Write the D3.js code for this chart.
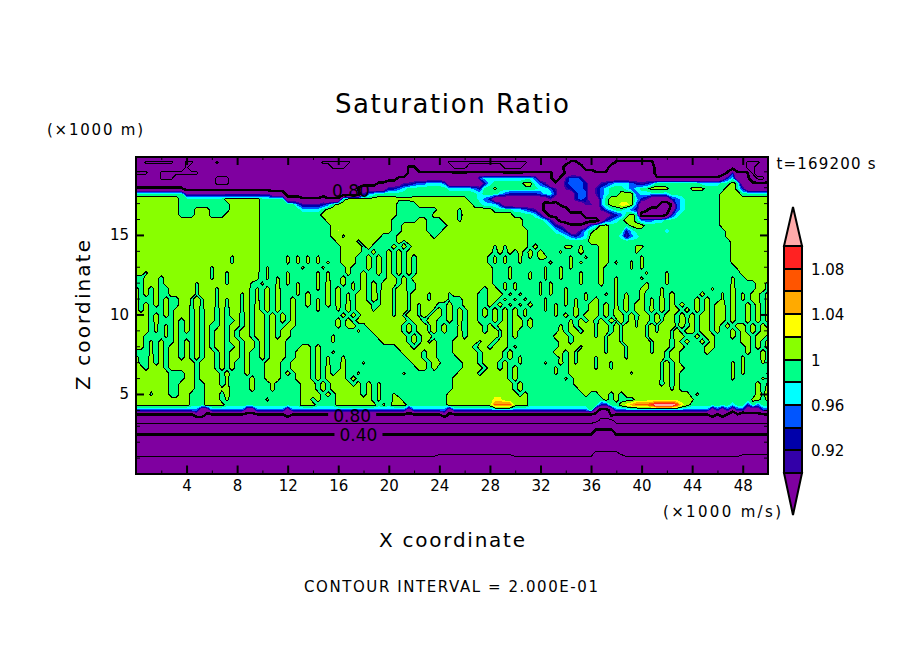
<!DOCTYPE html>
<html>
<head>
<meta charset="utf-8">
<script src="https://cdn.jsdelivr.net/npm/d3@7"></script>
<style>
  html, body { margin: 0; background: #fff; }
  svg { display: block; }
  text { font-family: "DejaVu Sans", sans-serif; fill: #000; }
</style>
</head>
<body>
<svg id="chart" width="904" height="654"></svg>
<script>
// shaded levels and their colours, lowest band first
const levels = [0.90, 0.92, 0.94, 0.96, 0.98, 1.00, 1.02, 1.04, 1.06, 1.08, 1.10];
const below_color = '#7f00a0';
const band_colors = ['#3300a8', '#0000aa', '#0055ff', '#00ffff', '#00ff88', '#88ff00', '#ffff00', '#ffaa00', '#ff5500', '#ff2222', '#ffaaaa'];
const line_levels = [0.2, 0.4, 0.6, 0.8, 1.0];
const line_widths = [1, 2.5, 1, 2.5, 1];

const x_major = [4, 8, 12, 16, 20, 24, 28, 32, 36, 40, 44, 48];
const x_minor = [2, 6, 10, 14, 18, 22, 26, 30, 34, 38, 42, 46, 50];
const z_major = [5, 10, 15];
const z_minor = [1, 2, 3, 4, 6, 7, 8, 9, 11, 12, 13, 14, 16, 17, 18, 19];
const bar_labels = [0.92, 0.96, 1.00, 1.04, 1.08];

const label_text = ['0.80', '0.80', '0.40'];
const label_x = [17.0, 17.1, 17.6];
const label_z = [17.8, 3.68, 2.5];

// what each grid character stands for
const code_chars = 'ABCDEFGHIJKLMPfghi.-+#xyonrs';
const code_values = [0.10, 0.13, 0.16, 0.19, 0.23, 0.28, 0.33, 0.37, 0.45, 0.55, 0.65, 0.76, 0.81, 0.85,
  0.91, 0.93, 0.95, 0.97, 0.99, 0.996, 1.004, 1.01, 1.022, 1.03, 1.05, 1.07, 1.09, 1.13];

// saturation ratio, top of the domain first.
// one row per 1/3 km, each block of ten is 4 km wide
const rows_top = [
  'LLLLLLLLLL LLLLLLLLLL LLLLLLLLLL LLLLLLLLLL LLLLLLLLLL LLLLLLLLLL LLLLLLLLLL LLLLLLLLLL LLLLLLLLLL LLLLLLLLLL LLLLLLLLLL LLLLLLLLLL LLLLLL',
  'LLJJJJJJLL JJLLLLJLLL LLLLLLLLLL LLLLLLLJJJ JJJLLLLLLL LLLLLLLLLL LLJJJJJJJJ JJJJJJJJLL LLLLLLMMLL LLLLLMMMMM MMMLLLLLLL LLLLLLLLLL LJJJLL',
  'LLLLLLLLLL JLLLLLLLLL LLLLLLLLLL LLLLLLLLLJ JJLLLLLLLL LLLLMMLLLL LLLJJJLLLL LLLJJJJLLL LLLLLPPPPL LLLLPPPPPP PPPLLLLLLL LLLLLLLLLL LJJLLL',
  'JJJLLJJJJJ JJJLLLLLLL LLLLLLLLLL LLLLLLLLLL LLLLLLLLLL LLLLMMMMMM MMMMMMMMMM MMMMMMMMMM MMMLLMPPPP PMMMMPPPPP PPPLLLLLLL LLLLLLLMgM MMJLLL',
  'LLLLLJJJLL LLLLLLJJJL LLLLLLLLLL LLLLLLLLLL LLLLLLLLLL LLMMPPPPPP PPPPPPPPhi iiiiiiiiih PPMLMfhhgP PPPPPPPPPP PPPMMMMMMM MMMMMMPgiP PMLJJL',
  'LLLLLLLLLL LLLLLLJJJL LLLLLLLLLL LLLLLLLLLL LLLLLLLLMM PPPffghhii ihPPPPPPPg i......##i hfMMPghhhg PPfghiiihg fgh....... ..iiii..#. PMMMMM',
  'MMMMMMMMMM LLLLLLLLLL LLLLLLLLLL LLLLLLLLLL LLLLMPPPPP gghi...... ..iiiiihg. .+........ iihfPfghhg Pfhi...ihi ..###+.... +++....##. gPPPPP',
  '.......... ffffffffff fffffffPPP LLLLLLLLLL LLLLLfhi.. .......... ........i. ..ihgggggg hiigPPPghh Pfhi..###h iiiiii.... ......#### ......',
  '#########. ........## #####..... PPPMMMMPMM M.######## ##+++##### ######..ih gPPPPPPPPP PPfPPPPghg PPh.#####i gfPPPPghi. ......#### ######',
  '#########. .........# #####..... ..hffffgh. ########## ##....#### #######..i iigPPPPPPP PLLLMPPPPf fPh.##yy#h PPPPLLMhi. ......#### ######',
  '#########. ..###....# #####..... ...iiii.## ########## ##........ ####-##### #....iihgf PLLLLLPPPP PPfhi..ihg PMLLLLPhi. ......#### ######',
  '#########. ..###...## #####..... .......### ########## ##.......# ####.##### #####....i gPLLLLLLLP PPPPfgh.#. LLLLLMgi.. ......#### ######',
  '########## ########## #####..... ........## ########## #.....##.. .###-##### #######... .igPLLLLLL LLPghi.##. hhhii..... ......#### ######',
  '########## ########## #####..... .........# ########## #..#####.. ..######## #######... ..igfPMMMP hi##....+# #......... ......#### ######',
  '########## ########## #####..... .........# x######### #..#####.. .######### ########.. ...ihgPPgi .###...gi. .....i.... .......### ######',
  '########## ########## #####..... .........# #-#######. ..#######. ########## ########.. .....ihghi ####..ifhi .......... .......### ######',
  '########## ########## #####..... .......... ####-###.. ..#-###### ########## ########.. .......... ####...... .......... ........## ######',
  '########## ########## #####..... .......... .####-#... .#.#.##### ########## #-#-####.# .....++.+. ..##.....+ +......... ........## ######',
  '########## ########## #####..... .......... .####..#.. #.#.###### ########## #.#.#.#.#. #...+...#. ..##.....+ .......... ........## ######',
  '########## #########- #####..... +.+.+.+... .###..#.#. #.#.#.#### ########## .+.+..+.+. #+....+..+ ..##...... +......... ........## ######'
];

const rows_middle = [
  '########## #########- #####..... +.+.+.+.+. .###..#.#. #.#.#.#### ########## .+.+..+... ..+...+.+. ..##.+..+. +......... ........+# ######',
  '########## #####-#### #####.+... ...+...+.. ..#...#.#. #.#.#.#### ########## #...+..... .+..+.+... ..#.....+. +......... .........+ ######',
  '##-####### #####-##-# ####+.+... +.....+.+. ..#..#..#. #.#.#.#### ########## #...+...+. .+..+...+. ..#....... .+...+.... .......... ######',
  '..###.#### #####-##-# ####+.+.+. +.....+.+. .#...#.... ##.#.##### ########## #...+...+. .+..+...+. ..#..+.... +....+.... ........+. .#####',
  '..###.#### ##-#####-# ###-.+..+. +.+...+.#. .#.+.#.#.# ##.#.-#### ########## #..+.+.... +.+.....+. ..#..+.... .+...+.... ........+. ...##.',
  '#.#.#..### ##-###-### ###.+.#.#. ..+...+.#. #..+.#.#.# #-##.-#### #########. ##.+.+.... +.+..+.... .....+.... ++..+..... ....+...#. ...##.',
  '#.#.#..### ##-###-### #-#.+.#.#. ..+.#...#. #.+.##.#-# #-##-###-# ##-#####.. ###.+.+... +.+..+...+ ...+.+.+.. #...+.#... ..#...+.#. +.#+.#',
  '#...#.#..# #-#-##-#-# #-#.+.#.#. .#..#.+.#. #.+.##.#-# #-##-###-# ##-..###.. ##.+.+.+.. .+...+.+.+ .#...+.#.. #.+.#.#... .#.#..+.#. +.#+.#',
  '#.#.#.#..# #-#-##-#-# #-#.#.#.#. .#..#.+.#. #.#.###.-# #-##-#-### ..#..###.. #.#.+.+.#. .+.+.+.+.. ##.#.+.#.# #.+.#.#.#. .#.#.##.#. .#.#.#',
  '#.#...#.## #.#.##.#.# #-#.#.#.#. .#....+... +.#.###-## #-##-#-##- #.#.#.##.# .#.#.#.+.. .+.+...#.. ##.#.#.#.# #.#.#.##.# .#.#.##.#. .#.#.#',
  '###.#.#.## #.#.##.#.# #.#.##.#.# .#........ .#.#.##### #-#-##-#-# #.#.#.##.# .#.#.#.+.. ...+.#.#.# ##.#.##.#. ##.#.##.#. #.##.##.#. .#.#.#',
  '###.#...#. #.#.##.#.. #.#.##.#.# .#........ #.#.###### ####.##.## ..#.#.##.. .#.#.##.#. ......+.#. #.#.#-#.#- ##.#-##.#- #.##.##.#. .#.#.#',
  '###.+.+.#. #.#.#..#.# #.#.##.#.. ##........ #.##..#### ###.#.##-# .#..+.###. #.##.##.#. ....+.#.## #-##.#-##- #-#-###-#. #.##.#.#.# #.#.#.',
  '###.+.+.#. #.#.#.##.# .##.##.#.# #......... ....+..### ###.#.##-# .#..#.###. ##-#.#.... ....#.##.# #-##.#-### #-#-##-#.# #.##.#..#. #.#.##',
  '##....+.#. ..#.#.##.# .##.##.#.# #........+ ........## ####.#.##. ....#.#### ##-#.#.... ...###.### #-#-##-### #-####-##. .#.##...#. ##.##.',
  '##.+.#..#. #.#.#.##.# #.##.#.### .........+ .........# ####.#.#-# ...#####-# #.##...... ....##.### ###-##-### ##-###.#.# ..#.#..... ##.#.#',
  '##.+.#.##. #.#.#.##.. #.##.#.### ...##.#... .......... ..###.#### ...####.## .###.+.... ....####-# ###-###-## ##-###.##. ...##..... .#.#.#',
  '...+.#.##. #.#.##.#.# #.#..#.### ..###.#..+ .......... ...####.## ...#####.# ###.#..... ...##.#-## ###-###-## ##-##.##.. ...#...... .#..#.',
  '#..#.#.##. #.#.##.#.# #.#..#.### ..###.#.+. .+........ ....###.## ....####.# ###.#.+... ....+.#-## #-#####-## #####.##.. .......... +...#.',
  '#..#.#.### ##.###.#.# ..#...###. .####.#.+. .#...+.... .....###.# +....###.# ##.#..+... .+..#.#-## #-##-##### ####-#.#.. ........+. +...+.',
  '##.###.### ##.###.#.# ..#...###. .####.#.#. .#........ ......##.# .....####. ##.#.#.... ...+..#### #-##-##### ####-#.##. ........+. +.....',
  '#######... ##.####.#. ..#...###. #.###.#.#. ##..+..... ...+...... ....####.# ####.#.... ...+..#### ########-# ####-#.#.. ........+. +....+',
  '#######... ##.####.+. ...#..###. ..###.#.## ##.#...... .......... ...####### ####.#.... .....+.### ########## ####-#.#.. ........+. ....+.',
  '#######..# ##..###.+. ...#...+.. ...###.#.# ###.#.#.+. .......... ...####### #####.#... .......### ########## ####.#.#.. .......... ...#.+',
  '###+###..# ##..###+#. ...#...#.. ...###.#.# #####.#.+. .......... ...####### #####.#... ........## ########## ######-#.. .......... ...#.#',
  '###-###..# #...###.#. .......... ...####.#. #####.#.+. .+........ ..######## ######.#.. .........# ..##.#.### ########## .+........ ...#-#',
  '########## #...###.+. ......+... ...##.#... #######.+. .+#....... ..######## #yy#####.. .......... ...#.#...# ########## +......... ..+#.#',
  '########## #...####.. .......... ...###.... ########.+ .###...... ..######## #nnnn###.. .......... ..gg..#yon nnrssssry# ........i. .g.h..'
];

const rows_bottom = [
  'hhhhhhhhhh hhhPPhhhhh hhPPhhhhhh Phhhhhhhhh hhhhhhhhhh hhhhPhhhhh hhPhhhhhhh hhhhhhhhhh hhhhhhhhhh .PLLPhhhhh hhhhhhhhhh hhhhPgPgPg gPPPgh',
  'LLLLLLLLLL LLPPLLLLLL LLLLLLLLLL PLLLLLLLLL LLLLLLLLLL LLLLLLLLLL LPLLLLLLLL LLLLLLLLLL LLLLLLLLLL LLKKMLLLLL LLLLLLLLLL LLLLPLPLKL KLLLLL',
  'KKKKKKKKKK KKKKKKKKKK KKKKKKKKKK KKKKKKKKKK KKKKKKKKKK KKKKKKKKKK KKKKKKKKKK KKKKKKKKKK KKKKKKKKKK KKJJJKKKKK KKKKKKKKKK KKKKKKKKKK KKKKKK',
  'JJJJJJJJJJ JJJJJJJJJJ JJJJJJJJJJ JJJJJJJJJJ JJJJJJJJJJ JJJJJJJJJJ JJJJJJJJJJ JJJJJJJJJJ JJJJJJJJJJ JIIIIJJJJJ JJJJJJJJJJ JJJJJJJJJJ JJJJJJ',
  'IIIIIIIIII IIIIIIIIII IIIIIIIIII IIIIIIIIII IIIIIIIIII IIIIIIIIII IIIIIIIIII IIIIIIIIII IIIIIIIIII IHHHHIIIII IIIIIIIIII IIIIIIIIII IIIIII',
  'HHHHHHHHHH HHHHHHHHHH HHHHHHHHHH HHHHHHHHHH HHHHHHHHHH HHHHHHHHHH HHHHHHHHHH HHHHHHHHHH HHHHHHHHHH HGGGGHHHHH HHHHHHHHHH HHHHHHHHHH HHHHHH',
  'GGGGGGGGGG GGGGGGGGGG GGGGGGGGGG GGGGGGGGGG GGGGGGGGGG GGGGGGGGGG GGGGGGGGGG GGGGGGGGGG GGGGGGGGGG GFFFFGGGGG GGGGGGGGGG GGGGGGGGGG GGGGGG',
  'FFFFFFFFFF FFFFFFFFFF FFFFFFFFFF FFFFFFFFFF FFFFFFFFFF FFFFFFFFFF FFFFFFFFFF FFFFFFFFFF FFFFFFFFFF FEEEEFFFFF FFFFFFFFFF FFFFFFFFFF FFFFFF',
  'EEEEEEEEEE EEEEEEEEEE EEEEEEEEEE EEEEEEEEEE EEEEEEEEEE EEEEEEEEEE EEEEEEEEEE EEEEEEEEEE EEEEEEEEEE EDDDDDEEEE EEEEEEEEEE EEEEEEEEEE EEEEEE',
  'DDDDDDDDDD DDDDDDDDDD DDDDDDDDDD DDDDDDDDDD DDDDDDDDDD DDDDDDDDDD CCCCCCCCCC CCCCCDDDDD DDDDDDDDDD DCCCCCCDDD DDDDDDDDDD DDDDDDDDDD CCCCCC',
  'CCCCCCCCCC CCCCCCCCCC CCCCCCCCCC CCCCCCCCCC CCCCCCCCCC CCCCCCCCCC CCCCCCCCCC CCCCCCCCCC CCCCCCCCCC CCCCCCCCCC CCCCCCCCCC CCCCCCCCCC CCCCCC',
  'BBBBBBBBBB BBBBBBBBBB BBBBBBBBBB BBBBBBBBBB BBBBBBBBBB BBBBBBBBBB BBBBBBBBBB BBBBBBBBBB BBBBBBBBBB BBBBBBBBBB BBBBBBBBBB BBBBBBBBBB BBBBBB',
  'AAAAAAAAAA AAAAAAAAAA AAAAAAAAAA AAAAAAAAAA AAAAAAAAAA AAAAAAAAAA AAAAAAAAAA AAAAAAAAAA AAAAAAAAAA AAAAAAAAAA AAAAAAAAAA AAAAAAAAAA AAAAAA'
];

const code_value = new Map(Array.from(code_chars).map((c, i) => [c, code_values[i]]));

function parse_row(row) {
  const blocks = row.split(' ');
  return blocks.map((b, i) => {
    const len = i === 12 ? 6 : 10;
    return b.padEnd(len, b[b.length - 1]).slice(0, len);
  }).join('');
}

const rows = rows_top.concat(rows_middle, rows_bottom).map(parse_row);
const nx = 126;
const ny = rows.length;
const dx = 0.4;
const dz = 19.9 / (ny - 1);
const grid = [];
rows.forEach((r) => {
  for (let i = 0; i < nx; i++) grid.push(code_value.get(r[i]));
});

const svg = d3.select('#chart');
const left = 136, right = 768, top_y = 157, bottom = 473.5;

const x = d3.scaleLinear().domain([0, 50]).range([left, right]);
const z = d3.scaleLinear().domain([0, 19.9]).range([bottom, top_y]);

const grid_path = d3.geoPath(d3.geoTransform({
  point(cx, cy) {
    this.stream.point(x((cx - 0.5) * dx), z(19.9 - (cy - 0.5) * dz));
  }
}));

const contours = d3.contours().size([nx, ny]).smooth(true);

svg.append('defs').append('clipPath').attr('id', 'plot-clip')
  .append('rect')
  .attr('x', left).attr('y', top_y)
  .attr('width', right - left).attr('height', bottom - top_y);

const plot = svg.append('g').attr('clip-path', 'url(#plot-clip)');

plot.append('rect')
  .attr('x', left).attr('y', top_y)
  .attr('width', right - left).attr('height', bottom - top_y)
  .attr('fill', below_color);

plot.selectAll('.band')
  .data(contours.thresholds(levels)(grid))
  .enter()
  .append('path')
  .attr('class', 'band')
  .attr('d', grid_path)
  .attr('fill', (d, i) => band_colors[i])
  .attr('shape-rendering', 'crispEdges');

plot.selectAll('.isoline')
  .data(contours.thresholds(line_levels)(grid))
  .enter()
  .append('path')
  .attr('class', 'isoline')
  .attr('d', grid_path)
  .attr('fill', 'none')
  .attr('stroke', '#000')
  .attr('stroke-width', (d, i) => line_widths[i])
  .attr('shape-rendering', 'crispEdges');

// contour labels, the low ones knock out their line
label_text.forEach((t, i) => {
  const lx = x(label_x[i]);
  const ly = z(label_z[i]);
  if (i > 0) {
    plot.append('rect')
      .attr('x', lx - 24).attr('y', ly - 3)
      .attr('width', 48).attr('height', 8)
      .attr('fill', below_color);
  }
  plot.append('text')
    .attr('x', lx).attr('y', ly + 7)
    .attr('text-anchor', 'middle')
    .attr('font-size', 17)
    .text(t);
});

function draw_axis(axis_fn, scale, offset, values, size, width, labelled, padding) {
  const axis = axis_fn(scale)
    .tickValues(values)
    .tickSize(-size)
    .tickPadding(padding);
  if (!labelled) axis.tickFormat('');
  const g = svg.append('g').attr('transform', offset).call(axis);
  g.select('.domain').remove();
  g.selectAll('.tick line').attr('stroke', '#000').attr('stroke-width', width);
  g.selectAll('text').attr('font-size', 15);
  return g;
}

const bottom_shift = `translate(0,${bottom})`;
const top_shift = `translate(0,${top_y})`;
const left_shift = `translate(${left},0)`;
const right_shift = `translate(${right},0)`;

draw_axis(d3.axisBottom, x, bottom_shift, x_minor, 3, 1, false, 0);
draw_axis(d3.axisBottom, x, bottom_shift, x_major, 8, 2, true, 7);
draw_axis(d3.axisTop, x, top_shift, x_minor, 3, 1, false, 0);
draw_axis(d3.axisTop, x, top_shift, x_major, 8, 2, false, 0);
draw_axis(d3.axisLeft, z, left_shift, z_minor, 4, 1, false, 0);
draw_axis(d3.axisLeft, z, left_shift, z_major, 8, 2, true, 7);
draw_axis(d3.axisRight, z, right_shift, z_minor, 4, 1, false, 0);
draw_axis(d3.axisRight, z, right_shift, z_major, 8, 2, false, 0);

svg.append('rect')
  .attr('x', left).attr('y', top_y)
  .attr('width', right - left).attr('height', bottom - top_y)
  .attr('fill', 'none').attr('stroke', '#000').attr('stroke-width', 2)
  .attr('shape-rendering', 'crispEdges');

// colour bar
const bar = d3.scaleLinear().domain([0.90, 1.10]).range([473, 246]);
const bar_left = 784, bar_right = 802, bar_mid = 793;
const bar_g = svg.append('g');

bar_g.selectAll('.cell')
  .data(d3.pairs(levels))
  .enter()
  .append('rect')
  .attr('class', 'cell')
  .attr('x', bar_left)
  .attr('y', (d) => bar(d[1]))
  .attr('width', bar_right - bar_left)
  .attr('height', (d) => bar(d[0]) - bar(d[1]))
  .attr('fill', (d, i) => band_colors[i])
  .attr('stroke', '#000').attr('stroke-width', 2)
  .attr('shape-rendering', 'crispEdges');

bar_g.append('path')
  .attr('d', `M${bar_left},${bar(1.10)} L${bar_mid},207 L${bar_right},${bar(1.10)} Z`)
  .attr('fill', band_colors[10]).attr('stroke', '#000').attr('stroke-width', 2);
bar_g.append('path')
  .attr('d', `M${bar_left},${bar(0.90)} L${bar_mid},515 L${bar_right},${bar(0.90)} Z`)
  .attr('fill', below_color).attr('stroke', '#000').attr('stroke-width', 2);

bar_g.selectAll('.bar-label')
  .data(bar_labels)
  .enter()
  .append('text')
  .attr('class', 'bar-label')
  .attr('x', 811)
  .attr('y', (d) => bar(d) + 6)
  .attr('font-size', 15)
  .text((d) => d === 1 ? '1' : d3.format('.2f')(d));

// titles and notes
function note(txt, cx, cy, size, width, rotate) {
  const t = svg.append('text')
    .attr('x', cx).attr('y', cy)
    .attr('text-anchor', 'middle')
    .attr('font-size', size)
    .attr('textLength', width)
    .text(txt);
  if (rotate) t.attr('transform', `rotate(${rotate} ${cx} ${cy})`);
}

note('Saturation Ratio', 452, 113, 26, 234);
note('(\u00d71000 m)', 95, 135, 15, 96);
note('t=169200 s', 826, 169, 15, 99);
note('(\u00d71000 m/s)', 722, 517, 15, 118);
note('X coordinate', 452, 547, 20, 146);
note('Z coordinate', 90, 315, 20, 150, -90);
note('CONTOUR INTERVAL = 2.000E-01', 451, 592, 15, 294);
</script>
</body>
</html>
